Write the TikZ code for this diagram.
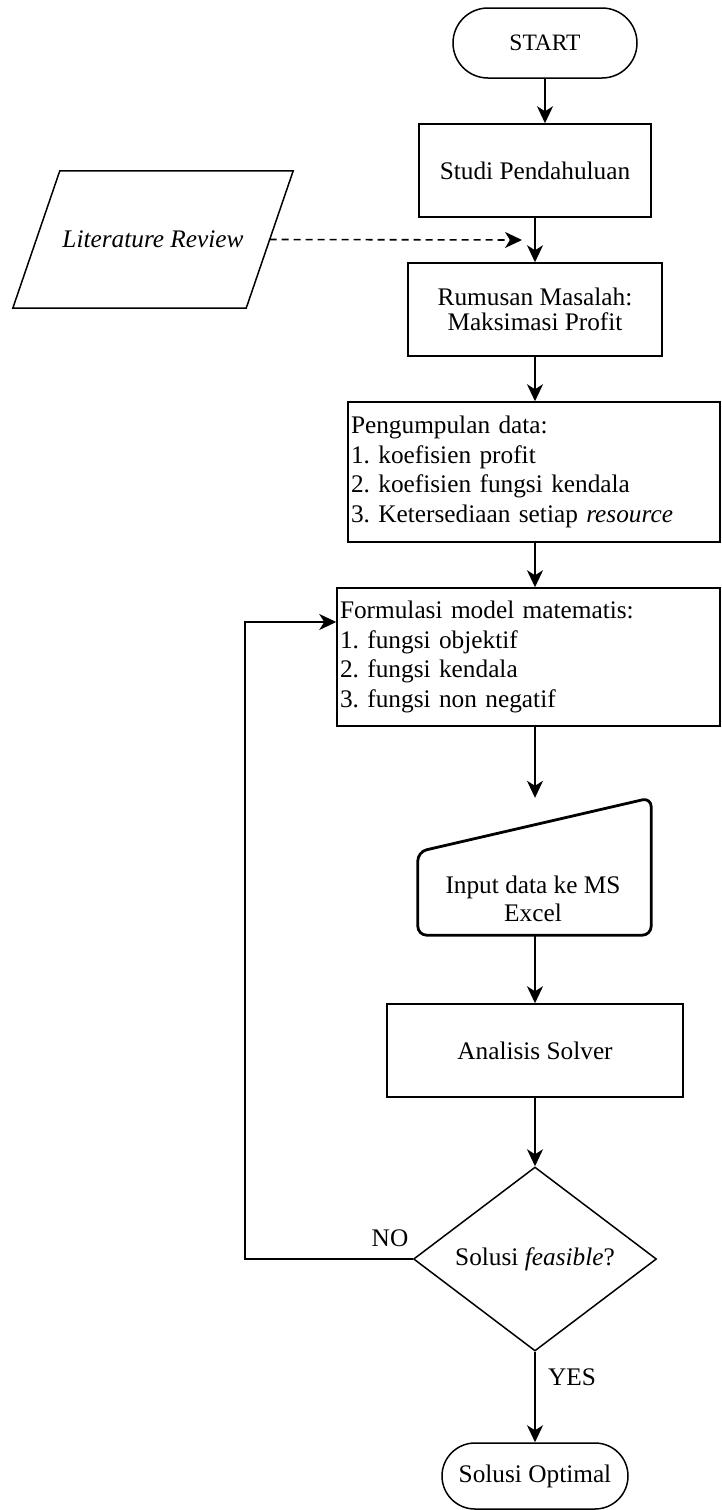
\documentclass[tikz,border=0pt]{standalone}
\usepackage{fontspec}
\setmainfont{Liberation Serif}
\usetikzlibrary{shapes.geometric,arrows.meta}
\newcommand\fsz{\fontsize{25.3}{29.5}\selectfont}
\frenchspacing
\begin{document}
\begin{tikzpicture}[x=1pt,y=-1pt,
  every node/.style={font=\fsz},
  box/.style={draw, line width=1.5pt, inner sep=3pt, align=center},
  term/.style={box},
  arr/.style={line width=1.6pt, -{Stealth[length=17pt,width=16pt,inset=5pt]}},
  lbl/.style={inner sep=0pt}
]
\useasboundingbox (0,0) rectangle (721,1510);

% nodes
\node[term, rounded corners=35pt, minimum width=184pt, minimum height=70pt, font=\fontsize{23.5}{28}\selectfont] (start) at (545,43) {START};
\node[box, minimum width=232pt, minimum height=93pt] (studi) at (535,170.5) {Studi Pendahuluan};
\node[minimum width=280pt, minimum height=137pt, inner sep=0pt] (lit) at (153,239.5) {\textit{Literature Review}};
\draw[line width=1.5pt] ([xshift=47pt]lit.north west) -- (lit.north east) -- ([xshift=-47pt]lit.south east) -- (lit.south west) -- cycle;
\coordinate (dashend) at (522,240);
\node[box, minimum width=254pt, minimum height=93pt, font=\fontsize{25.3}{25}\selectfont] (rumusan) at (535,309.5) {Rumusan Masalah:\\Maksimasi Profit};
\node[box, align=left, text width=366pt, minimum height=140pt] (peng) at (534,472)
  {Pengumpulan data:\\1. koefisien profit\\2. koefisien fungsi kendala\\3. Ketersediaan setiap \textit{resource}};
\node[box, align=left, text width=377pt, minimum height=138pt] (form) at (528.5,657)
  {Formulasi model matematis:\\1. fungsi objektif\\2. fungsi kendala\\3. fungsi non negatif};
\node[minimum width=233pt, minimum height=137pt, inner sep=0pt] (input) at (534.5,866.5) {};
\draw[line width=2.8pt, rounded corners=9pt] (input.south west) -- ([yshift=-54pt]input.north west) -- (input.north east) -- (input.south east) -- cycle;
\node[lbl, align=center, font=\fontsize{25.3}{28}\selectfont] (inputtext) at (533,899) {Input data ke MS\\Excel};
\node[box, minimum width=296pt, minimum height=93pt] (analisis) at (535,1050.5) {Analisis Solver};
\node[draw, line width=1.5pt, diamond, minimum width=243pt, minimum height=184pt, inner sep=0pt] (dec) at (535,1259) {Solusi \textit{feasible}?};
\node[term, rounded corners=33pt, minimum width=186pt, minimum height=66pt] (opt) at (535,1476) {Solusi Optimal};
\node[lbl] (no) at (390,1238) {NO};
\node[lbl] (yes) at (572,1377) {YES};

% connectors
\draw[arr] (start.south) -- (start.south |- studi.north);
\draw[arr] (studi.south) -- (rumusan.north);
\draw[arr, dash pattern=on 7pt off 5pt] ([xshift=-23.5pt]lit.east) -- (dashend);
\draw[arr] (rumusan.south) -- (rumusan.south |- peng.north);
\draw[arr] (rumusan.south |- peng.south) -- (rumusan.south |- form.north);
\draw[arr] (rumusan.south |- form.south) -- (rumusan.south |- input.north);
\draw[arr] (rumusan.south |- input.south) -- (rumusan.south |- analisis.north);
\draw[arr] (analisis.south) -- (dec.north);
\draw[arr] (dec.south) -- (opt.north);
\draw[arr] (dec.west) -- ++(-168,0) |- ([yshift=35pt]form.west);
\end{tikzpicture}
\end{document}
